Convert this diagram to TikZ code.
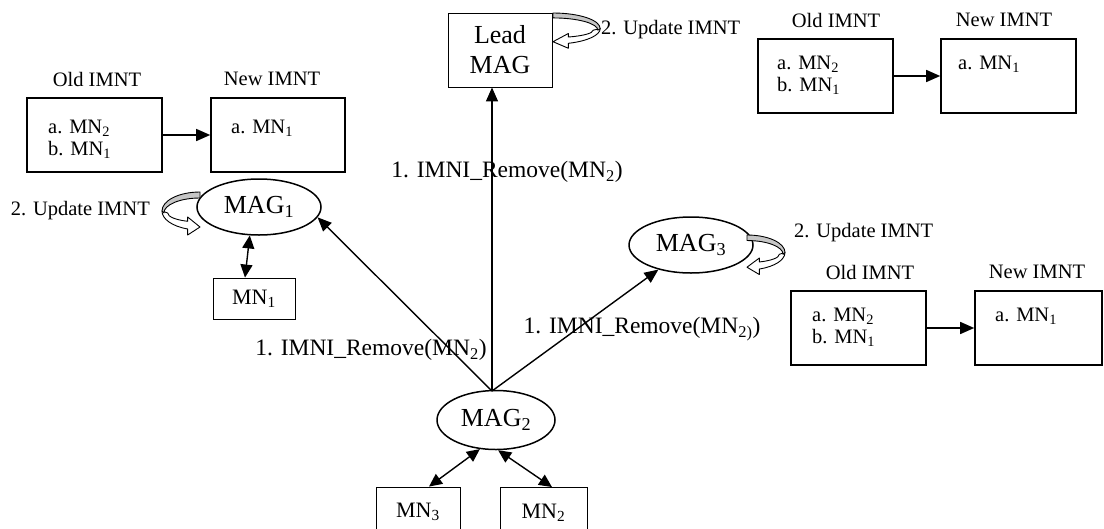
\documentclass[tikz,border=0pt]{standalone}
\usepackage{fontspec}
\setmainfont{Liberation Serif}
\usetikzlibrary{arrows.meta,shapes.geometric}
\newcommand\myfsS{\fontsize{20.5}{22}\selectfont}
\newcommand\myfsM{\fontsize{23.5}{26}\selectfont}
\newcommand\myfsN{\fontsize{22}{24}\selectfont}
\newcommand\myfsL{\fontsize{26}{30}\selectfont}
\tikzset{
  curvarr/.pic={
    \filldraw[fill=white, line width=0.9pt, line join=round]
      (40,19) arc[start angle=0,end angle=71,x radius=40,y radius=19]
      -- (13,43) -- (0,35) -- (13,25) -- (13,29.3)
      arc[start angle=67.5,end angle=0,x radius=34,y radius=9] -- cycle;
    \filldraw[fill=gray!45, line width=0.9pt, line join=round]
      (0,0) arc[start angle=-90,end angle=0,x radius=40,y radius=19]
      -- (38,21) arc[start angle=0,end angle=-90,x radius=38,y radius=15] -- cycle;
  }
}
\begin{document}
\begin{tikzpicture}[x=1pt,y=-1pt,
  tbl/.style={draw, line width=1.6pt, minimum width=135pt, minimum height=74pt, inner sep=0pt},
  mnbox/.style={draw, line width=0.9pt, minimum width=84pt, minimum height=41pt, inner sep=0pt, font=\myfsN},
  mag/.style={draw, ellipse, line width=1.5pt, minimum width=124pt, minimum height=56pt, inner sep=0pt, font=\myfsL},
  ttl/.style={font=\myfsS, inner sep=0pt},
  ent/.style={font=\myfsS, inner sep=0pt, anchor=west},
  lbl/.style={font=\myfsM, inner sep=0pt},
  arr/.style={line width=1.4pt, -{Triangle[length=14pt,width=12pt]}},
  dbl/.style={line width=1.4pt, {Triangle[length=13pt,width=12pt]}-{Triangle[length=13pt,width=12pt]}}
]
\useasboundingbox (0,0) rectangle (1104,528);

% ---- top-left tables
\node[tbl] (oldTL) at (94.5,135) {};
\node[tbl, minimum width=134pt] (newTL) at (278,135) {};
\node[ttl] (oldTLt) at (97,79) {Old IMNT};
\node[ttl] (newTLt) at (272,79) {New IMNT};
\node[ent] (tla) at (48,128) {a. MN\textsubscript{2}};
\node[ent] (tlb) at (48,150) {b. MN\textsubscript{1}};
\node[ent] (tlc) at (231,128) {a. MN\textsubscript{1}};
\draw[arr] (oldTL.east) -- (newTL.west);

% ---- top-right tables
\node[tbl] (oldTR) at (825.5,76) {};
\node[tbl] (newTR) at (1008.5,76) {};
\node[ttl] (oldTRt) at (836,20) {Old IMNT};
\node[ttl] (newTRt) at (1004,20) {New IMNT};
\node[ent] (tra) at (777,64) {a. MN\textsubscript{2}};
\node[ent] (trb) at (777,86) {b. MN\textsubscript{1}};
\node[ent] (trc) at (958,64) {a. MN\textsubscript{1}};
\draw[arr] (oldTR.east) -- (newTR.west);

% ---- bottom-right tables
\node[tbl] (oldBR) at (858.5,328) {};
\node[tbl, minimum width=127pt] (newBR) at (1038.5,328) {};
\node[ttl] (oldBRt) at (870,272) {Old IMNT};
\node[ttl] (newBRt) at (1037,272) {New IMNT};
\node[ent] (bra) at (812,316) {a. MN\textsubscript{2}};
\node[ent] (brb) at (812,338) {b. MN\textsubscript{1}};
\node[ent] (brc) at (995,316) {a. MN\textsubscript{1}};
\draw[arr] (oldBR.east) -- (newBR.west);

% ---- main nodes
\node[draw, line width=0.9pt, minimum width=104pt, minimum height=74pt, inner sep=0pt,
      align=center, font=\myfsL] (lead) at (500,50) {Lead\\MAG};
\node[mag] (mag1) at (259,207) {MAG\textsubscript{1}};
\node[mag, minimum width=118pt, minimum height=59pt] (mag2) at (496,420) {MAG\textsubscript{2}};
\node[mag] (mag3) at (691,245) {MAG\textsubscript{3}};
\node[mnbox, minimum width=82pt] (mn1) at (254,298.5) {MN\textsubscript{1}};
\node[mnbox, minimum height=50pt] (mn3) at (418,512) {MN\textsubscript{3}};
\node[mnbox, minimum width=87pt, minimum height=50pt] (mn2) at (543.5,512.5) {MN\textsubscript{2}};

\coordinate (hub) at (492,391);

% ---- connectors
\draw[arr] (hub) -- (hub |- lead.south);
\draw[arr] (hub) -- (mag1.-10);
\draw[arr] (hub) -- (mag3.217);
\draw[dbl] (mag1.252) -- ([xshift=-9pt]mn1.north);
\draw[dbl] (mag2.241) -- ([xshift=11pt]mn3.north);
\draw[dbl] (mag2.274) -- ([xshift=8.5pt]mn2.north);

% ---- labels
\node[lbl] (l1) at (507,172) {1. IMNI\_Remove(MN\textsubscript{2})};
\node[lbl] (l2) at (371,350) {1. IMNI\_Remove(MN\textsubscript{2})};
\node[lbl] (l3) at (642,329) {1. IMNI\_Remove(MN\textsubscript{2)})};

\node[ttl, anchor=east] (u1) at (150,211) {2. Update IMNT};
\node[ttl, anchor=west] (u2) at (601,30) {2. Update IMNT};
\node[ttl, anchor=west] (u3) at (794,233) {2. Update IMNT};

% ---- curved self-update arrows
\pic[xscale=1.18, yscale=0.82] at (553,13) {curvarr};
\pic[xscale=-0.95] at (200,192) {curvarr};
\pic[xscale=0.95, yscale=0.92] at (747,235) {curvarr};
\end{tikzpicture}
\end{document}
